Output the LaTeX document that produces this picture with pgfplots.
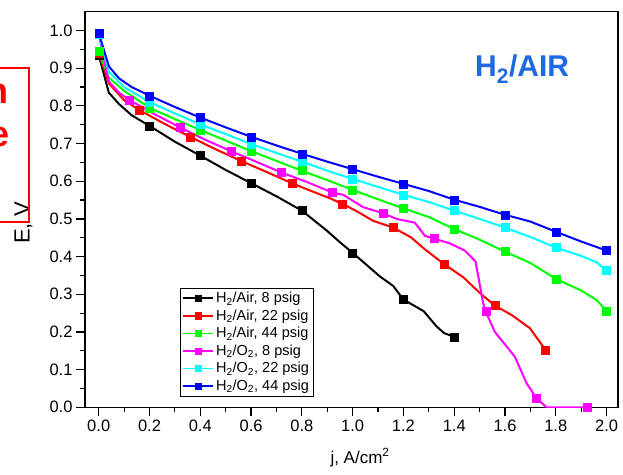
\documentclass[border=0pt]{standalone}
\usepackage{fontspec}
\setmainfont{Liberation Sans}
\usepackage{pgfplots}
\pgfplotsset{compat=1.18}
\definecolor{titleblue}{RGB}{30,105,225}
\definecolor{pgreen}{RGB}{0,255,0}
\definecolor{pcyan}{RGB}{0,255,255}
\definecolor{pmag}{RGB}{255,0,255}
\definecolor{pblue}{RGB}{0,0,255}
\definecolor{pred}{RGB}{255,0,0}
\begin{document}
\begin{tikzpicture}[x=1pt,y=1pt]
\begin{axis}[
  at={(0,0)}, anchor=south west,
  scale only axis, width=533pt, height=395.6pt,
  xmin=-0.054, xmax=2.045, ymin=0, ymax=1.05,
  xtick={0,0.2,...,2.0}, ytick={0,0.1,...,1.0},
  minor x tick num=1, minor y tick num=1,
  tick align=outside, xtick pos=bottom, ytick pos=left,
  major tick length=9pt, minor tick length=5pt,
  axis line style={line width=1.2pt},
  every tick/.style={line width=1.2pt, black},
  /pgf/number format/.cd, fixed, fixed zerofill, precision=1, assume math mode=true,
  /pgfplots/.cd,
  tick label style={font=\fontsize{16.5}{19}\selectfont},
  xlabel={j, A/cm\textsuperscript{2}},
  ylabel={E, V},
  xlabel style={at={(axis description cs:0.516,-0.1408)}, anchor=base, font=\fontsize{17}{20}\selectfont},
  ylabel style={at={(axis description cs:-0.1154,0.466)}, anchor=center, font=\fontsize{22}{24}\selectfont},
  legend style={at={(axis description cs:0.178,0.3016)}, anchor=north west, draw=black, line width=0.8pt,
    font=\fontsize{14.5}{16}\selectfont, row sep=1.5pt, inner sep=2pt},
  legend cell align=left,
  legend image code/.code={\draw[#1, line width=1.8pt, mark indices={2}, mark size=3.2pt] plot coordinates {(0pt,0pt) (15pt,0pt) (30pt,0pt)};},
  every axis plot/.append style={line width=2pt, mark=square*, mark size=4pt, mark options={solid, line width=0.4pt}},
]
\addplot[black, mark indices={1,5,7,9,11,14,17,21}] coordinates {
(0,0.935) (0.04,0.835) (0.08,0.805) (0.13,0.775) (0.2,0.747) (0.3,0.705) (0.4,0.668)
(0.5,0.630) (0.6,0.595) (0.7,0.560) (0.8,0.522) (0.9,0.468) (0.95,0.438) (1.0,0.410)
(1.108,0.347) (1.16,0.322) (1.2,0.286) (1.28,0.255) (1.33,0.215) (1.36,0.197) (1.4,0.187)};
\addlegendentry{H\textsubscript{2}/Air, 8 psig}
\addplot[pred, mark indices={1,4,6,8,10,13,16,19,22,25}] coordinates {
(0,0.94) (0.04,0.86) (0.1,0.815) (0.16,0.789) (0.26,0.752) (0.36,0.718) (0.46,0.685)
(0.56,0.654) (0.66,0.625) (0.76,0.595) (0.86,0.568) (0.91,0.555) (0.96,0.540)
(1.02,0.519) (1.08,0.495) (1.16,0.477) (1.23,0.451) (1.285,0.419) (1.36,0.380)
(1.436,0.345) (1.50,0.304) (1.56,0.270) (1.626,0.245) (1.698,0.21) (1.76,0.152)};
\addlegendentry{H\textsubscript{2}/Air, 22 psig}
\addplot[pgreen, mark indices={1,4,6,8,10,12,14,16,18,20,23}] coordinates {
(0,0.945) (0.04,0.875) (0.1,0.84) (0.2,0.795) (0.3,0.765) (0.4,0.736) (0.5,0.708)
(0.6,0.680) (0.7,0.654) (0.8,0.628) (0.9,0.603) (1.0,0.577) (1.1,0.552) (1.2,0.528)
(1.3,0.505) (1.4,0.473) (1.5,0.445) (1.6,0.413) (1.7,0.383) (1.8,0.341) (1.9,0.31)
(1.96,0.285) (2.0,0.256)};
\addlegendentry{H\textsubscript{2}/Air, 44 psig}
\addplot[pmag, mark indices={1,4,6,8,10,12,15,19,24,28,30}] coordinates {
(0,0.99) (0.04,0.865) (0.08,0.835) (0.12,0.816) (0.22,0.778) (0.32,0.743) (0.42,0.71)
(0.52,0.680) (0.62,0.652) (0.72,0.623) (0.82,0.598) (0.92,0.570) (0.963,0.564)
(1.042,0.531) (1.12,0.515) (1.173,0.50) (1.245,0.49) (1.285,0.455) (1.32,0.448)
(1.383,0.435) (1.442,0.416) (1.484,0.387) (1.514,0.276) (1.524,0.254) (1.56,0.20)
(1.639,0.134) (1.685,0.064) (1.724,0.024) (1.764,0.0) (1.925,0.0)};
\addlegendentry{H\textsubscript{2}/O\textsubscript{2}, 8 psig}
\addplot[pcyan, mark indices={1,4,6,8,10,12,14,16,18,20,23}] coordinates {
(0,0.99) (0.04,0.89) (0.1,0.85) (0.2,0.81) (0.3,0.78) (0.4,0.751) (0.5,0.725)
(0.6,0.699) (0.7,0.675) (0.8,0.652) (0.9,0.628) (1.0,0.606) (1.1,0.585) (1.2,0.564)
(1.3,0.545) (1.4,0.522) (1.5,0.50) (1.6,0.477) (1.7,0.452) (1.8,0.424) (1.9,0.402)
(1.96,0.385) (2.0,0.363)};
\addlegendentry{H\textsubscript{2}/O\textsubscript{2}, 22 psig}
\addplot[pblue, mark indices={1,5,7,9,11,13,15,17,19,21,23}] coordinates {
(0,0.994) (0.04,0.905) (0.08,0.873) (0.13,0.85) (0.2,0.827) (0.3,0.797) (0.4,0.769)
(0.5,0.743) (0.6,0.718) (0.7,0.695) (0.8,0.673) (0.9,0.652) (1.0,0.632) (1.1,0.612)
(1.2,0.593) (1.3,0.574) (1.4,0.551) (1.5,0.532) (1.6,0.511) (1.7,0.493) (1.8,0.466)
(1.9,0.44) (2.0,0.416)};
\addlegendentry{H\textsubscript{2}/O\textsubscript{2}, 44 psig}
\end{axis}
\node[anchor=base west, text=titleblue, font=\bfseries\fontsize{30}{36}\selectfont, inner sep=0pt] at (390,330.3) {H\textsubscript{2}/AIR};
\draw[pred, line width=2.7pt] (-95,339.3) -- (-56,339.3) -- (-56,185.3) -- (-95,185.3);
\node[anchor=base east, text=pred, font=\bfseries\fontsize{36}{40}\selectfont, inner sep=0pt] at (-76.5,303.3) {n};
\node[anchor=base east, text=pred, font=\bfseries\fontsize{36}{40}\selectfont, inner sep=0pt] at (-75.5,260.3) {e};
\pgfresetboundingbox
\useasboundingbox (-85,-66.7) rectangle (538,407.3);
\end{tikzpicture}
\end{document}
